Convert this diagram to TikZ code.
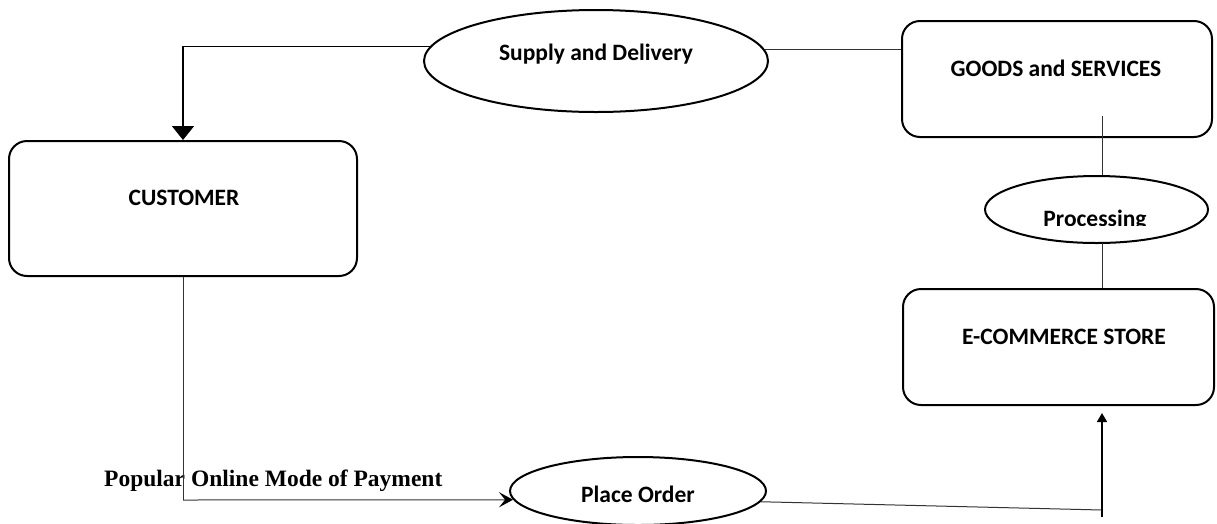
\documentclass[tikz,border=0pt]{standalone}
\usepackage{fontspec}
\setmainfont{Carlito}
\newfontfamily\tnr{Liberation Serif}
\usetikzlibrary{shapes.geometric,arrows.meta,calc}
\tikzset{
  box/.style={draw=black, line width=2pt, rounded corners=18pt, inner sep=0pt},
  ell/.style={draw=black, line width=2pt, ellipse, inner sep=0pt},
  lbl/.style={font=\fontsize{23.5}{26}\selectfont\bfseries, inner sep=0pt, anchor=base},
  thin/.style={draw=black!80, line width=1pt},
  heavy/.style={draw=black, line width=1.6pt},
}
\begin{document}
\begin{tikzpicture}[x=1pt,y=-1pt]
\useasboundingbox (0,0) rectangle (1217,523);
% boxes
\node[box, minimum width=348pt, minimum height=135pt] (cu) at (183,208.5) {};
\node[box, minimum width=310pt, minimum height=116pt] (gs) at (1057,79) {};
\node[box, minimum width=311pt, minimum height=116pt] (ec) at (1058.5,347) {};
% ellipses
\node[ell, minimum width=344pt, minimum height=102pt] (sd) at (596,61) {};
\node[ell, minimum width=223pt, minimum height=67pt] (pr) at (1096.5,209.5) {};
\node[ell, minimum width=256pt, minimum height=68pt] (po) at (638,491) {};
% labels
\node[lbl] (cut) at (184,205) {CUSTOMER};
\node[lbl] (gst) at (1056,76) {GOODS and SERVICES};
\node[lbl] (ect) at (1064,344) {E-COMMERCE STORE};
\node[lbl] (sdt) at (596,60) {Supply and Delivery};
\node[lbl] (pot) at (638,502) {Place Order};
\begin{scope}
\clip (990,195) rectangle (1205,225);
\node[lbl] (prt) at (1095,226.5) {Processing};
\end{scope}
\node[lbl, anchor=base west, font=\fontsize{23.5}{26}\selectfont\tnr\bfseries] (pay) at (104,486) {Popular Online Mode of Payment};
% coordinates
\coordinate (c1) at (183,500);
\coordinate (c2) at (1102,510);
\coordinate (c3) at (1102,517);
\coordinate (gsin) at (1102,116);
\coordinate (prlow) at (1102,243);
% connectors
\draw[heavy, -{Triangle[width=22pt,length=14pt]}] (sd.175.5) -| (cu.north);
\draw[thin] (sd.4) -- (sd.4 -| gs.west);
\draw[thin] (gsin) -- (gsin |- pr.north);
\draw[thin] (prlow) -- (prlow |- ec.north);
\draw[thin] (cu.south) -- (c1);
\draw[thin, -{Stealth[length=14pt,width=15pt,inset=6pt,line width=2pt,fill=black,black]}] (c1) -- (po.184);
\draw[thin] (po.-5) -- (c2);
\draw[heavy, shorten >=7pt, -{Triangle[width=10pt,length=9pt]}] (c3) -- (c3 |- ec.south);
\end{tikzpicture}
\end{document}
